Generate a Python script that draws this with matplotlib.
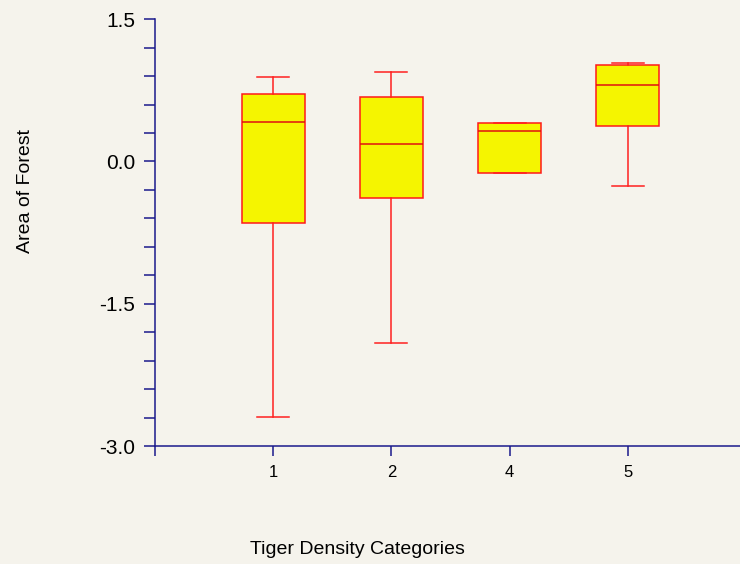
import matplotlib
matplotlib.use("Agg")
from matplotlib import pyplot as plt
from matplotlib.ticker import MultipleLocator

plt.rcParams['font.family'] = ['Liberation Sans', 'DejaVu Sans']

categories = ["1", "2", "4", "5"]
whisker_low = [-2.69, -1.91, -0.12, -0.26]
box_low = [-0.65, -0.38, -0.12, 0.37]
medians = [0.42, 0.18, 0.32, 0.81]
box_high = [0.71, 0.68, 0.41, 1.02]
whisker_high = [0.89, 0.94, 0.41, 1.04]

BG = '#f5f3ec'
NAVY = '#1a1a8c'

stats = []
for i in range(len(categories)):
    stats.append(dict(label=categories[i], whislo=whisker_low[i], q1=box_low[i],
                      med=medians[i], q3=box_high[i], whishi=whisker_high[i], fliers=[]))

fig = plt.figure(figsize=(7.4, 5.64), dpi=100, facecolor=BG)
ax = fig.add_axes([0.2095, 0.209, 0.7905, 0.757])
ax.set_facecolor(BG)

ax.bxp(stats, positions=[1, 2, 3, 4], widths=0.53, patch_artist=True, showfliers=False,
       boxprops=dict(facecolor='#f5f500', edgecolor='#ff1a1a', linewidth=1.1),
       medianprops=dict(color='#e01010', linewidth=1.1),
       whiskerprops=dict(color='#ff2020', linewidth=1.1),
       capprops=dict(color='#ff2020', linewidth=1.1),
       capwidths=0.27)

ax.set_xlim(0, 4.95)
ax.set_ylim(-3.0, 1.5)
ax.set_xticks([0, 1, 2, 3, 4])
ax.set_xticklabels(["", "1", "2", "4", "5"], fontsize=12)
ax.set_yticks([-3.0, -1.5, 0.0, 1.5])
ax.set_yticklabels(["-3.0", "-1.5", "0.0", "1.5"], fontsize=15)
ax.yaxis.set_minor_locator(MultipleLocator(0.3))
ax.tick_params(axis='y', which='both', direction='out', length=8, color=NAVY, width=1.1, pad=6.5)
ax.tick_params(axis='x', direction='out', length=7, color=NAVY, width=1.1, pad=6.5)

for side in ['top', 'right']:
    ax.spines[side].set_visible(False)
for side in ['left', 'bottom']:
    ax.spines[side].set_color(NAVY)
    ax.spines[side].set_linewidth(1.1)

fig.text(0.483, 0.026, "Tiger Density Categories", ha='center', va='center', fontsize=14)
fig.text(0.034, 0.662, "Area of Forest", ha='center', va='center', rotation=90, fontsize=14)

fig.savefig("out.png", dpi=100, facecolor=BG)
